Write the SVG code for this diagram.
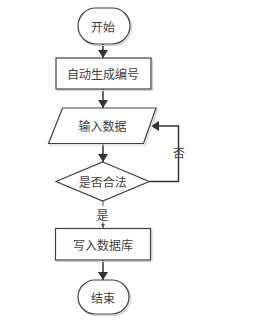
<svg xmlns="http://www.w3.org/2000/svg" width="271" height="321" viewBox="0 0 271 321">
<style>
.shape{fill:#ffffff;stroke:#404040;stroke-width:1.2}
.shadow{fill:none;stroke:#d0d0d0;stroke-width:1.2}
.lbl{font-family:"Noto Sans CJK SC","Noto Sans",sans-serif;font-size:12px;fill:#404040;text-anchor:middle;dominant-baseline:central}
.con{fill:none;stroke:#333333;stroke-width:1.5}
.thin{fill:none;stroke:#555555;stroke-width:1}
</style>
<defs>
<marker id="ah" markerWidth="8" markerHeight="10" refX="8" refY="5" orient="auto" markerUnits="userSpaceOnUse">
<path d="M0,0 L8,5 L0,10 Z" fill="#333333"/>
</marker>
<marker id="ahs" markerWidth="4" markerHeight="4" refX="4" refY="2" orient="auto" markerUnits="userSpaceOnUse">
<path d="M0,0 L4,2 L0,4 Z" fill="#555555"/>
</marker>
</defs>
<g id="connectors">
<line class="con" x1="103" y1="44" x2="103" y2="58" marker-end="url(#ah)"/>
<line class="con" x1="103" y1="89" x2="103" y2="108" marker-end="url(#ah)"/>
<line class="con" x1="103" y1="143.5" x2="103" y2="162" marker-end="url(#ah)"/>
<polyline class="con" points="149.5,181.5 178.5,181.5 178.5,126 151,126" marker-end="url(#ah)"/>
<line class="thin" x1="103" y1="201" x2="103" y2="206"/>
<line class="thin" x1="103" y1="222" x2="103" y2="228" marker-end="url(#ahs)"/>
<line class="con" x1="103" y1="260" x2="103" y2="280" marker-end="url(#ah)"/>
<text class="lbl" x="179" y="152">否</text>
<text class="lbl" x="102.5" y="214">是</text>
</g>
<g id="start">
<rect class="shadow" x="79.5" y="9.5" width="52" height="36" rx="18"/>
<rect class="shape" x="78" y="8" width="52" height="36" rx="18"/>
<text class="lbl" x="103" y="26">开始</text>
</g>
<g id="gen">
<rect class="shadow" x="57.5" y="59.5" width="95" height="31"/>
<rect class="shape" x="56" y="58" width="95" height="31"/>
<text class="lbl" x="103" y="73.5">自动生成编号</text>
</g>
<g id="input">
<polygon class="shadow" points="64,109.5 157.5,109.5 145,145 50,145"/>
<polygon class="shape" points="62.5,108 156,108 143.5,143.5 48.5,143.5"/>
<text class="lbl" x="102.5" y="125.5">输入数据</text>
</g>
<g id="check">
<polygon class="shape" points="102.7,162 149.3,181.5 102.7,201 56,181.5"/>
<text class="lbl" x="102.7" y="181.5">是否合法</text>
</g>
<g id="write">
<rect class="shadow" x="57" y="230" width="95" height="31.5"/>
<rect class="shape" x="55.5" y="228.5" width="95" height="31.5"/>
<text class="lbl" x="103" y="244.3">写入数据库</text>
</g>
<g id="end">
<rect class="shadow" x="79.5" y="281.5" width="51" height="34" rx="17"/>
<rect class="shape" x="78" y="280" width="51" height="34" rx="17"/>
<text class="lbl" x="103" y="297">结束</text>
</g>
</svg>
